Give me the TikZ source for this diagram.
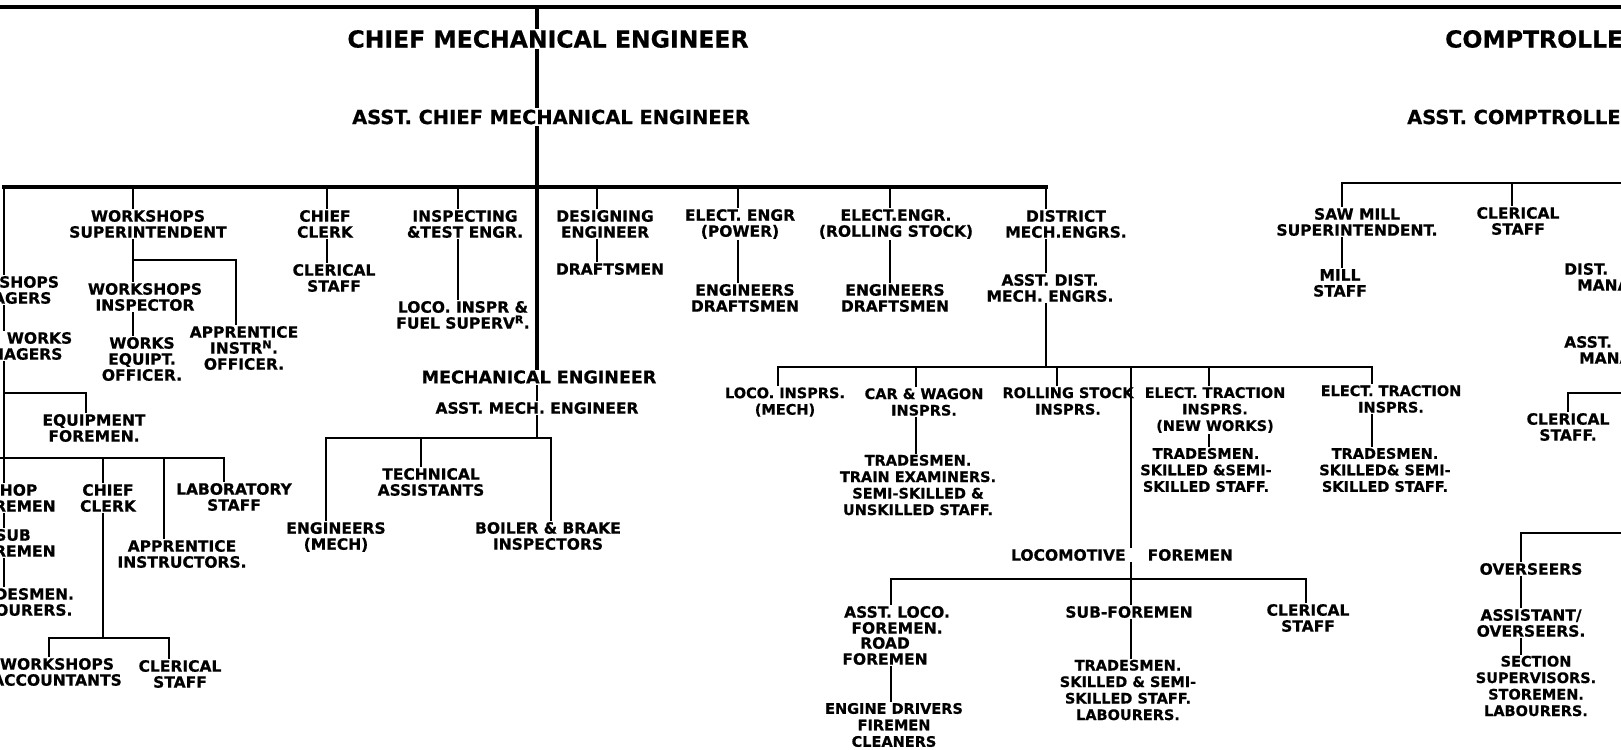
\documentclass[tikz,border=0pt]{standalone}
\usepackage{fontspec}
\setmainfont{DejaVu Sans}[BoldFeatures={FakeBold=0.6}]
\tikzset{
  lbl/.style={font=\bfseries\fontsize{15.5}{16}\selectfont, align=center, inner sep=2pt},
  sml/.style={font=\bfseries\fontsize{14.5}{16.5}\selectfont, align=center, inner sep=2pt},
  mid/.style={font=\bfseries\fontsize{17.5}{20}\selectfont, inner sep=2pt},
  ttl/.style={font=\bfseries\fontsize{23.5}{26}\selectfont, inner sep=3pt},
  sttl/.style={font=\bfseries\fontsize{19.4}{22}\selectfont, inner sep=3pt},
  conn/.style={line width=2.4pt, line cap=rect},
  heavy/.style={line width=3.2pt, line cap=rect}
}
\begin{document}
\begin{tikzpicture}[x=1pt,y=-1pt]
\useasboundingbox (0,0) rectangle (1621,749);
\fill[white] (0,0) rectangle (1621,749);
\clip (0,0) rectangle (1621,749);

% heads
\node[ttl] (cme) at (548,39) {CHIEF MECHANICAL ENGINEER};
\node[sttl] (acme) at (551,117) {ASST. CHIEF MECHANICAL ENGINEER};
\node[ttl, anchor=west] (comp) at (1442,39) {COMPTROLLER};
\node[sttl, anchor=west] (acomp) at (1404,117) {ASST. COMPTROLLER};

% workshops side
\node[lbl] (wsmgr) at (2,290) {WORKSHOPS\\MANAGERS};
\node[lbl] (awmgr) at (13,346) {ASST. WORKS\\MANAGERS};
\node[lbl] (ef) at (94,428) {EQUIPMENT\\FOREMEN.};
\node[lbl] (shopf) at (13,498) {SHOP\\FOREMEN};
\node[lbl] (subf) at (13,543) {SUB\\FOREMEN};
\node[lbl] (trl) at (17,602) {TRADESMEN.\\LABOURERS.};
\node[lbl] (cc2) at (108,498) {CHIEF\\CLERK};
\node[lbl] (ai) at (182,554) {APPRENTICE\\INSTRUCTORS.};
\node[lbl] (lab) at (234,497) {LABORATORY\\STAFF};
\node[lbl] (wsa) at (57,672) {WORKSHOPS\\ACCOUNTANTS};
\node[lbl] (cs2) at (180,674) {CLERICAL\\STAFF};
\node[lbl] (wssup) at (148,224) {WORKSHOPS\\SUPERINTENDENT};
\node[lbl] (wsinsp) at (145,297) {WORKSHOPS\\INSPECTOR};
\node[lbl] (weo) at (142,359) {WORKS\\EQUIPT.\\OFFICER.};
\node[lbl] (apinst) at (244,348) {APPRENTICE\\INSTR\textsuperscript{N}.\\OFFICER.};
\node[lbl] (cclerk) at (325,224) {CHIEF\\CLERK};
\node[lbl] (cstaff) at (334,278) {CLERICAL\\STAFF};
\node[lbl] (insp) at (465,224) {INSPECTING\\\&TEST ENGR.};
\node[lbl] (loco) at (463,315) {LOCO. INSPR \&\\FUEL SUPERV\textsuperscript{R}.};

% mechanical engineer
\node[mid] (me) at (539,377) {MECHANICAL ENGINEER};
\node[lbl] (ame) at (537,408) {ASST. MECH. ENGINEER};
\node[lbl] (engm) at (336,537) {ENGINEERS\\(MECH)};
\node[lbl] (tech) at (431,482) {TECHNICAL\\ASSISTANTS};
\node[lbl] (boil) at (548,536) {BOILER \& BRAKE\\INSPECTORS};

\node[lbl] (design) at (605,224) {DESIGNING\\ENGINEER};
\node[lbl] (draft) at (610,269) {DRAFTSMEN};
\node[lbl] (eep) at (740,224) {ELECT. ENGR\\(POWER)};
\node[lbl] (eepst) at (745,298) {ENGINEERS\\DRAFTSMEN};
\node[lbl] (eers) at (896,224) {ELECT.ENGR.\\(ROLLING STOCK)};
\node[lbl] (eerst) at (895,298) {ENGINEERS\\DRAFTSMEN};

% district
\node[lbl] (dme) at (1066,224) {DISTRICT\\MECH.ENGRS.};
\node[lbl] (adme) at (1050,288) {ASST. DIST.\\MECH. ENGRS.};
\node[sml] (lim) at (785,402) {LOCO. INSPRS.\\(MECH)};
\node[sml] (cw) at (924,402) {CAR \& WAGON\\INSPRS.};
\node[sml] (cwst) at (918,485) {TRADESMEN.\\TRAIN EXAMINERS.\\SEMI-SKILLED \&\\UNSKILLED STAFF.};
\node[sml] (rs) at (1068,401) {ROLLING STOCK\\INSPRS.};
\node[sml] (etn) at (1215,410) {ELECT. TRACTION\\INSPRS.\\(NEW WORKS)};
\node[sml] (etnst) at (1206,470) {TRADESMEN.\\SKILLED \&SEMI-\\SKILLED STAFF.};
\node[sml] (et) at (1391,399) {ELECT. TRACTION\\INSPRS.};
\node[sml] (etst) at (1385,470) {TRADESMEN.\\SKILLED\& SEMI-\\SKILLED STAFF.};
\node[lbl] (lf) at (1122,555) {LOCOMOTIVE\hspace{22pt}FOREMEN};
\node[lbl] (alf) at (897,620) {ASST. LOCO.\\FOREMEN.};
\node[lbl] (rf) at (885,651) {ROAD\\FOREMEN};
\node[sml] (ed) at (894,725) {ENGINE DRIVERS\\FIREMEN\\CLEANERS};
\node[lbl] (sf) at (1129,612) {SUB-FOREMEN};
\node[sml] (sfst) at (1128,690) {TRADESMEN.\\SKILLED \& SEMI-\\SKILLED STAFF.\\LABOURERS.};
\node[lbl] (lcs) at (1308,618) {CLERICAL\\STAFF};

% comptroller side
\node[lbl] (smill) at (1357,222) {SAW MILL\\SUPERINTENDENT.};
\node[lbl] (mill) at (1340,283) {MILL\\STAFF};
\node[lbl] (ccs) at (1518,221) {CLERICAL\\STAFF};
\node[lbl, anchor=west, align=left] (dist) at (1562,277) {DIST.\\\hspace*{13pt}MANAGERS};
\node[lbl, anchor=west, align=left] (asst) at (1562,350) {ASST.\\\hspace*{15pt}MANAGERS};
\node[lbl] (rcs) at (1568,427) {CLERICAL\\STAFF.};
\node[lbl] (ov) at (1531,569) {OVERSEERS};
\node[lbl] (aov) at (1531,623) {ASSISTANT/\\OVERSEERS.};
\node[sml] (sec) at (1536,686) {SECTION\\SUPERVISORS.\\STOREMEN.\\LABOURERS.};

% top line and main stem
\coordinate (tl) at (0,7);
\coordinate (tr) at (1621,7);
\coordinate (mv) at (537,7);
\draw[heavy] (tl) -- (tr);
\draw[heavy] (mv) -- (mv |- cme.north);
\draw[heavy] (mv |- cme.south) -- (mv |- acme.north);
\draw[heavy] (mv |- acme.south) -- (mv |- me.north);
\draw[conn] (mv |- me.south) -- (mv |- ame.north);

% first bar
\foreach \n/\x in {wsmgr/4, wssup/133, cclerk/327, insp/458, design/597, eep/738, eers/890, dme/1046}{
  \coordinate (d\n) at (\x,187);
  \draw[conn] (d\n) -- (d\n |- \n.north);
}
\draw[heavy] (dwsmgr) -- (ddme);

% workshops column
\draw[conn] (dwsmgr |- wsmgr.south) -- (dwsmgr |- awmgr.north);
\draw[conn] (dwsmgr |- awmgr.south) -- (dwsmgr |- shopf.north);
\draw[conn] (dwsmgr |- shopf.south) -- (dwsmgr |- subf.north);
\draw[conn] (dwsmgr |- subf.south) -- (dwsmgr |- trl.north);
\coordinate (def) at (86,393);
\draw[conn] (dwsmgr |- def) -- (def) -- (def |- ef.north);
\coordinate (lb) at (0,458);
\coordinate (dlab) at (224,458);
\coordinate (dcc) at (103,458);
\coordinate (dai) at (164,458);
\draw[conn] (lb) -- (dlab) -- (dlab |- lab.north);
\draw[conn] (dcc) -- (dcc |- cc2.north);
\draw[conn] (dai) -- (dai |- ai.north);
\coordinate (dwsa) at (49,638);
\coordinate (dcs) at (169,638);
\draw[conn] (dcc |- cc2.south) -- (dcc |- dwsa);
\draw[conn] (dwsa |- wsa.north) -- (dwsa) -- (dcs) -- (dcs |- cs2.north);

\draw[conn] (dwssup |- wssup.south) -- (dwssup |- wsinsp.north);
\draw[conn] (dwssup |- wsinsp.south) -- (dwssup |- weo.north);
\coordinate (dap) at (236,260);
\draw[conn] (dwssup |- dap) -- (dap) -- (dap |- apinst.north);
\draw[conn] (dcclerk |- cclerk.south) -- (dcclerk |- cstaff.north);
\draw[conn] (dinsp |- insp.south) -- (dinsp |- loco.north);
\draw[conn] (ddesign |- design.south) -- (ddesign |- draft.north);
\draw[conn] (deep |- eep.south) -- (deep |- eepst.north);
\draw[conn] (deers |- eers.south) -- (deers |- eerst.north);

% mechanical engineer bar
\coordinate (dengm) at (326,438);
\coordinate (dtech) at (421,438);
\coordinate (dboil) at (551,438);
\draw[conn] (mv |- ame.south) -- (mv |- dboil);
\draw[conn] (dengm |- engm.north) -- (dengm) -- (dboil) -- (dboil |- boil.north);
\draw[conn] (dtech) -- (dtech |- tech.north);

% district bar
\coordinate (dlim) at (778,367);
\coordinate (dcw) at (916,367);
\coordinate (drs) at (1057,367);
\coordinate (dlf) at (1131,367);
\coordinate (detn) at (1209,367);
\coordinate (det) at (1372,367);
\draw[conn] (ddme |- dme.south) -- (ddme |- adme.north);
\draw[conn] (ddme |- adme.south) -- (ddme |- dlim);
\draw[conn] (dlim |- lim.north) -- (dlim) -- (det) -- (det |- et.north);
\draw[conn] (dcw) -- (dcw |- cw.north);
\draw[conn] (drs) -- (drs |- rs.north);
\draw[conn] (detn) -- (detn |- etn.north);
\draw[conn] (dlf) -- (dlf |- lf.north);
\draw[conn] (dcw |- cw.south) -- (dcw |- cwst.north);
\draw[conn] (detn |- etn.south) -- (detn |- etnst.north);
\draw[conn] (det |- et.south) -- (det |- etst.north);

% locomotive foremen bar
\coordinate (dalf) at (891,579);
\coordinate (dsf) at (1131,579);
\coordinate (dlcs) at (1306,579);
\draw[conn] (dlf |- lf.south) -- (dsf) -- (dsf |- sf.north);
\draw[conn] (dalf |- alf.north) -- (dalf) -- (dlcs) -- (dlcs |- lcs.north);
\draw[conn] (dalf |- rf.south) -- (dalf |- ed.north);
\draw[conn] (dsf |- sf.south) -- (dsf |- sfst.north);

% comptroller
\coordinate (dsm) at (1342,183);
\coordinate (dccs) at (1512,183);
\coordinate (cr) at (1621,183);
\draw[conn] (dsm |- smill.north) -- (dsm) -- (cr);
\draw[conn] (dccs) -- (dccs |- ccs.north);
\draw[conn] (dsm |- smill.south) -- (dsm |- mill.north);
\coordinate (drcs) at (1568,393);
\coordinate (rcsr) at (1621,393);
\draw[conn] (drcs |- rcs.north) -- (drcs) -- (rcsr);
\coordinate (dov) at (1521,533);
\coordinate (ovr) at (1621,533);
\draw[conn] (dov |- ov.north) -- (dov) -- (ovr);
\draw[conn] (dov |- ov.south) -- (dov |- aov.north);
\draw[conn] (dov |- aov.south) -- (dov |- sec.north);
\end{tikzpicture}
\end{document}
